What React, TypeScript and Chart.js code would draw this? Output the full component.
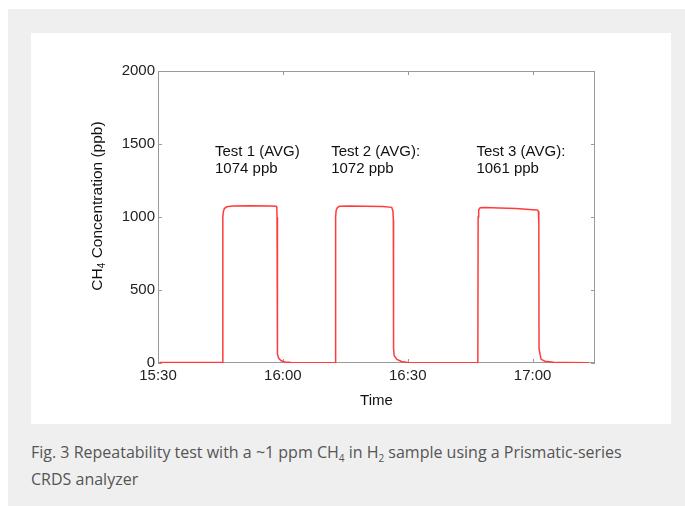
import React, { useEffect, useRef } from "react";
import { Chart, registerables } from "chart.js";

Chart.register(...registerables);

// minutes after 15:30
const timeMin = [
  0.4, 15.5, 15.58, 15.7, 15.95, 16.5, 18, 22, 27, 28.4, 28.55, 28.6, 28.65, 28.75, 29.0, 29.6, 30.5, 32,
  42.6, 42.68, 42.8, 43.1, 43.6, 46, 50, 54, 56.16, 56.45, 56.55, 56.6, 56.75, 57.4, 58.5, 60, 62,
  76.85, 76.92, 77.05, 77.4, 78.5, 82, 86, 90, 91.1, 91.4, 91.5, 91.55, 91.8, 92.05, 93, 95, 98, 103.5,
];
const concPpb = [
  3, 3, 1000, 1035, 1058, 1070, 1075, 1077, 1076, 1074, 1065, 1000, 112, 60, 32, 15, 7, 3,
  2, 1000, 1045, 1065, 1073, 1075, 1074, 1072, 1066, 1040, 980, 100, 50, 25, 10, 4, 2,
  2, 1000, 1050, 1063, 1065, 1062, 1058, 1050, 1048, 1040, 950, 100, 60, 25, 12, 5, 3, 2,
];

const xTickValues = [0, 30, 60, 90];
const xTickLabels = ["15:30", "16:00", "16:30", "17:00"];
const yTickValues = [0, 500, 1000, 1500, 2000];
const yTickLabels = ["0", "500", "1000", "1500", "2000"];

const noteTitles = ["Test 1 (AVG)", "Test 2 (AVG):", "Test 3 (AVG):"];
const noteValues = ["1074 ppb", "1072 ppb", "1061 ppb"];
const noteX = [13.7, 41.6, 76.5];
const noteY1 = [1420, 1420, 1420];
const noteY2 = [1303, 1303, 1303];

const FONT = "'Liberation Sans', Arial, Helvetica, sans-serif";

const framePlugin = {
  id: "frame",
  beforeDatasetsDraw(chart: any) {
    const { ctx, chartArea: a, scales } = chart;
    ctx.save();
    ctx.strokeStyle = "#9a9a9a";
    ctx.lineWidth = 1;
    ctx.strokeRect(a.left + 0.5, a.top + 0.5, a.right - a.left - 1, a.bottom - a.top - 1);
    const len = 4;
    ctx.beginPath();
    for (const v of xTickValues) {
      const px = Math.round(scales.x.getPixelForValue(v)) + 0.5;
      ctx.moveTo(px, a.bottom);
      ctx.lineTo(px, a.bottom - len);
      ctx.moveTo(px, a.top);
      ctx.lineTo(px, a.top + len);
    }
    for (const v of yTickValues) {
      const py = Math.round(scales.y.getPixelForValue(v)) + 0.5;
      ctx.moveTo(a.left, py);
      ctx.lineTo(a.left + len, py);
      ctx.moveTo(a.right, py);
      ctx.lineTo(a.right - len, py);
    }
    ctx.stroke();
    ctx.restore();
  },
};

const notesPlugin = {
  id: "notes",
  afterDatasetsDraw(chart: any) {
    const { ctx, scales } = chart;
    ctx.save();
    ctx.fillStyle = "#111";
    ctx.font = `15px ${FONT}`;
    ctx.textAlign = "left";
    ctx.textBaseline = "alphabetic";
    noteTitles.forEach((t, i) => {
      const x = scales.x.getPixelForValue(noteX[i]);
      ctx.fillText(t, x, scales.y.getPixelForValue(noteY1[i]));
      ctx.fillText(noteValues[i], x, scales.y.getPixelForValue(noteY2[i]));
    });
    ctx.restore();
  },
};

const yTitlePlugin = {
  id: "ytitle",
  afterDraw(chart: any) {
    const { ctx, chartArea: a } = chart;
    const cx = a.left - 60;
    const cy = (a.top + a.bottom) / 2 - 11;
    const main = `15.5px ${FONT}`;
    const small = `10px ${FONT}`;
    ctx.save();
    ctx.fillStyle = "#111";
    ctx.textBaseline = "middle";
    ctx.textAlign = "left";
    ctx.font = main;
    const w1 = ctx.measureText("CH").width;
    const w3 = ctx.measureText(" Concentration (ppb)").width;
    ctx.font = small;
    const w2 = ctx.measureText("4").width;
    const total = w1 + w2 + w3;
    ctx.translate(cx, cy);
    ctx.rotate(-Math.PI / 2);
    let x = -total / 2;
    ctx.font = main;
    ctx.fillText("CH", x, 0);
    x += w1;
    ctx.font = small;
    ctx.fillText("4", x, 4);
    x += w2;
    ctx.font = main;
    ctx.fillText(" Concentration (ppb)", x, 0);
    ctx.restore();
  },
};

function CH4Chart() {
  const ref = useRef<HTMLCanvasElement>(null);
  useEffect(() => {
    if (!ref.current) return;
    const data = timeMin.map((t, i) => ({ x: t, y: concPpb[i] }));
    const chart = new Chart(ref.current, {
      type: "line",
      data: {
        datasets: [
          {
            data,
            borderColor: "#ff3b3b",
            borderWidth: 1.5,
            pointRadius: 0,
            tension: 0,
            fill: false,
          },
        ],
      },
      options: {
        animation: false,
        responsive: false,
        devicePixelRatio: 1,
        layout: { padding: { left: 0, right: 76, top: 38, bottom: 0 } },
        plugins: { legend: { display: false }, tooltip: { enabled: false } },
        scales: {
          x: {
            type: "linear",
            min: 0,
            max: 105,
            grid: { display: false, drawTicks: false },
            border: { display: false },
            afterBuildTicks: (s: any) => {
              s.ticks = xTickValues.map((v) => ({ value: v }));
            },
            afterFit: (s: any) => {
              s.height = 61;
            },
            ticks: {
              padding: 4,
              maxRotation: 0,
              autoSkip: false,
              color: "#222",
              font: { family: FONT, size: 15 },
              callback: (v: any) => {
                const i = xTickValues.indexOf(Number(v));
                return i >= 0 ? xTickLabels[i] : "";
              },
            },
            title: {
              display: true,
              text: "Time",
              color: "#111",
              font: { family: FONT, size: 15 },
              padding: { top: 0, bottom: 14 },
            },
          },
          y: {
            type: "linear",
            min: 0,
            max: 2000,
            grid: { display: false, drawTicks: false },
            border: { display: false },
            afterBuildTicks: (s: any) => {
              s.ticks = yTickValues.map((v) => ({ value: v }));
            },
            afterFit: (s: any) => {
              s.width = 127;
            },
            ticks: {
              padding: 3,
              color: "#222",
              font: { family: FONT, size: 15 },
              callback: (v: any) => {
                const i = yTickValues.indexOf(Number(v));
                return i >= 0 ? yTickLabels[i] : "";
              },
            },
          },
        },
      },
      plugins: [framePlugin, notesPlugin, yTitlePlugin],
    } as any);
    return () => chart.destroy();
  }, []);
  return <canvas ref={ref} width={640} height={391} style={{ display: "block" }} />;
}

export default function App() {
  const sub: React.CSSProperties = { fontSize: 10, position: "relative", top: 4 };
  return (
    <div
      style={{
        position: "fixed",
        left: 8,
        top: 9,
        right: 0,
        bottom: 0,
        background: "#efefef",
      }}
    >
      <div
        style={{
          position: "absolute",
          left: 23,
          top: 24,
          width: 640,
          height: 391,
          background: "#fff",
        }}
      >
        <CH4Chart />
      </div>
      <div
        style={{
          position: "absolute",
          left: 23,
          top: 431,
          fontFamily: "'Open Sans', sans-serif",
          fontSize: 16,
          lineHeight: "24.5px",
          color: "#555",
          whiteSpace: "nowrap",
        }}
      >
        Fig. 3 Repeatability test with a ~1 ppm CH<span style={sub}>4</span> in H
        <span style={sub}>2</span> sample using a Prismatic-series
        <br />
        CRDS analyzer
      </div>
    </div>
  );
}
